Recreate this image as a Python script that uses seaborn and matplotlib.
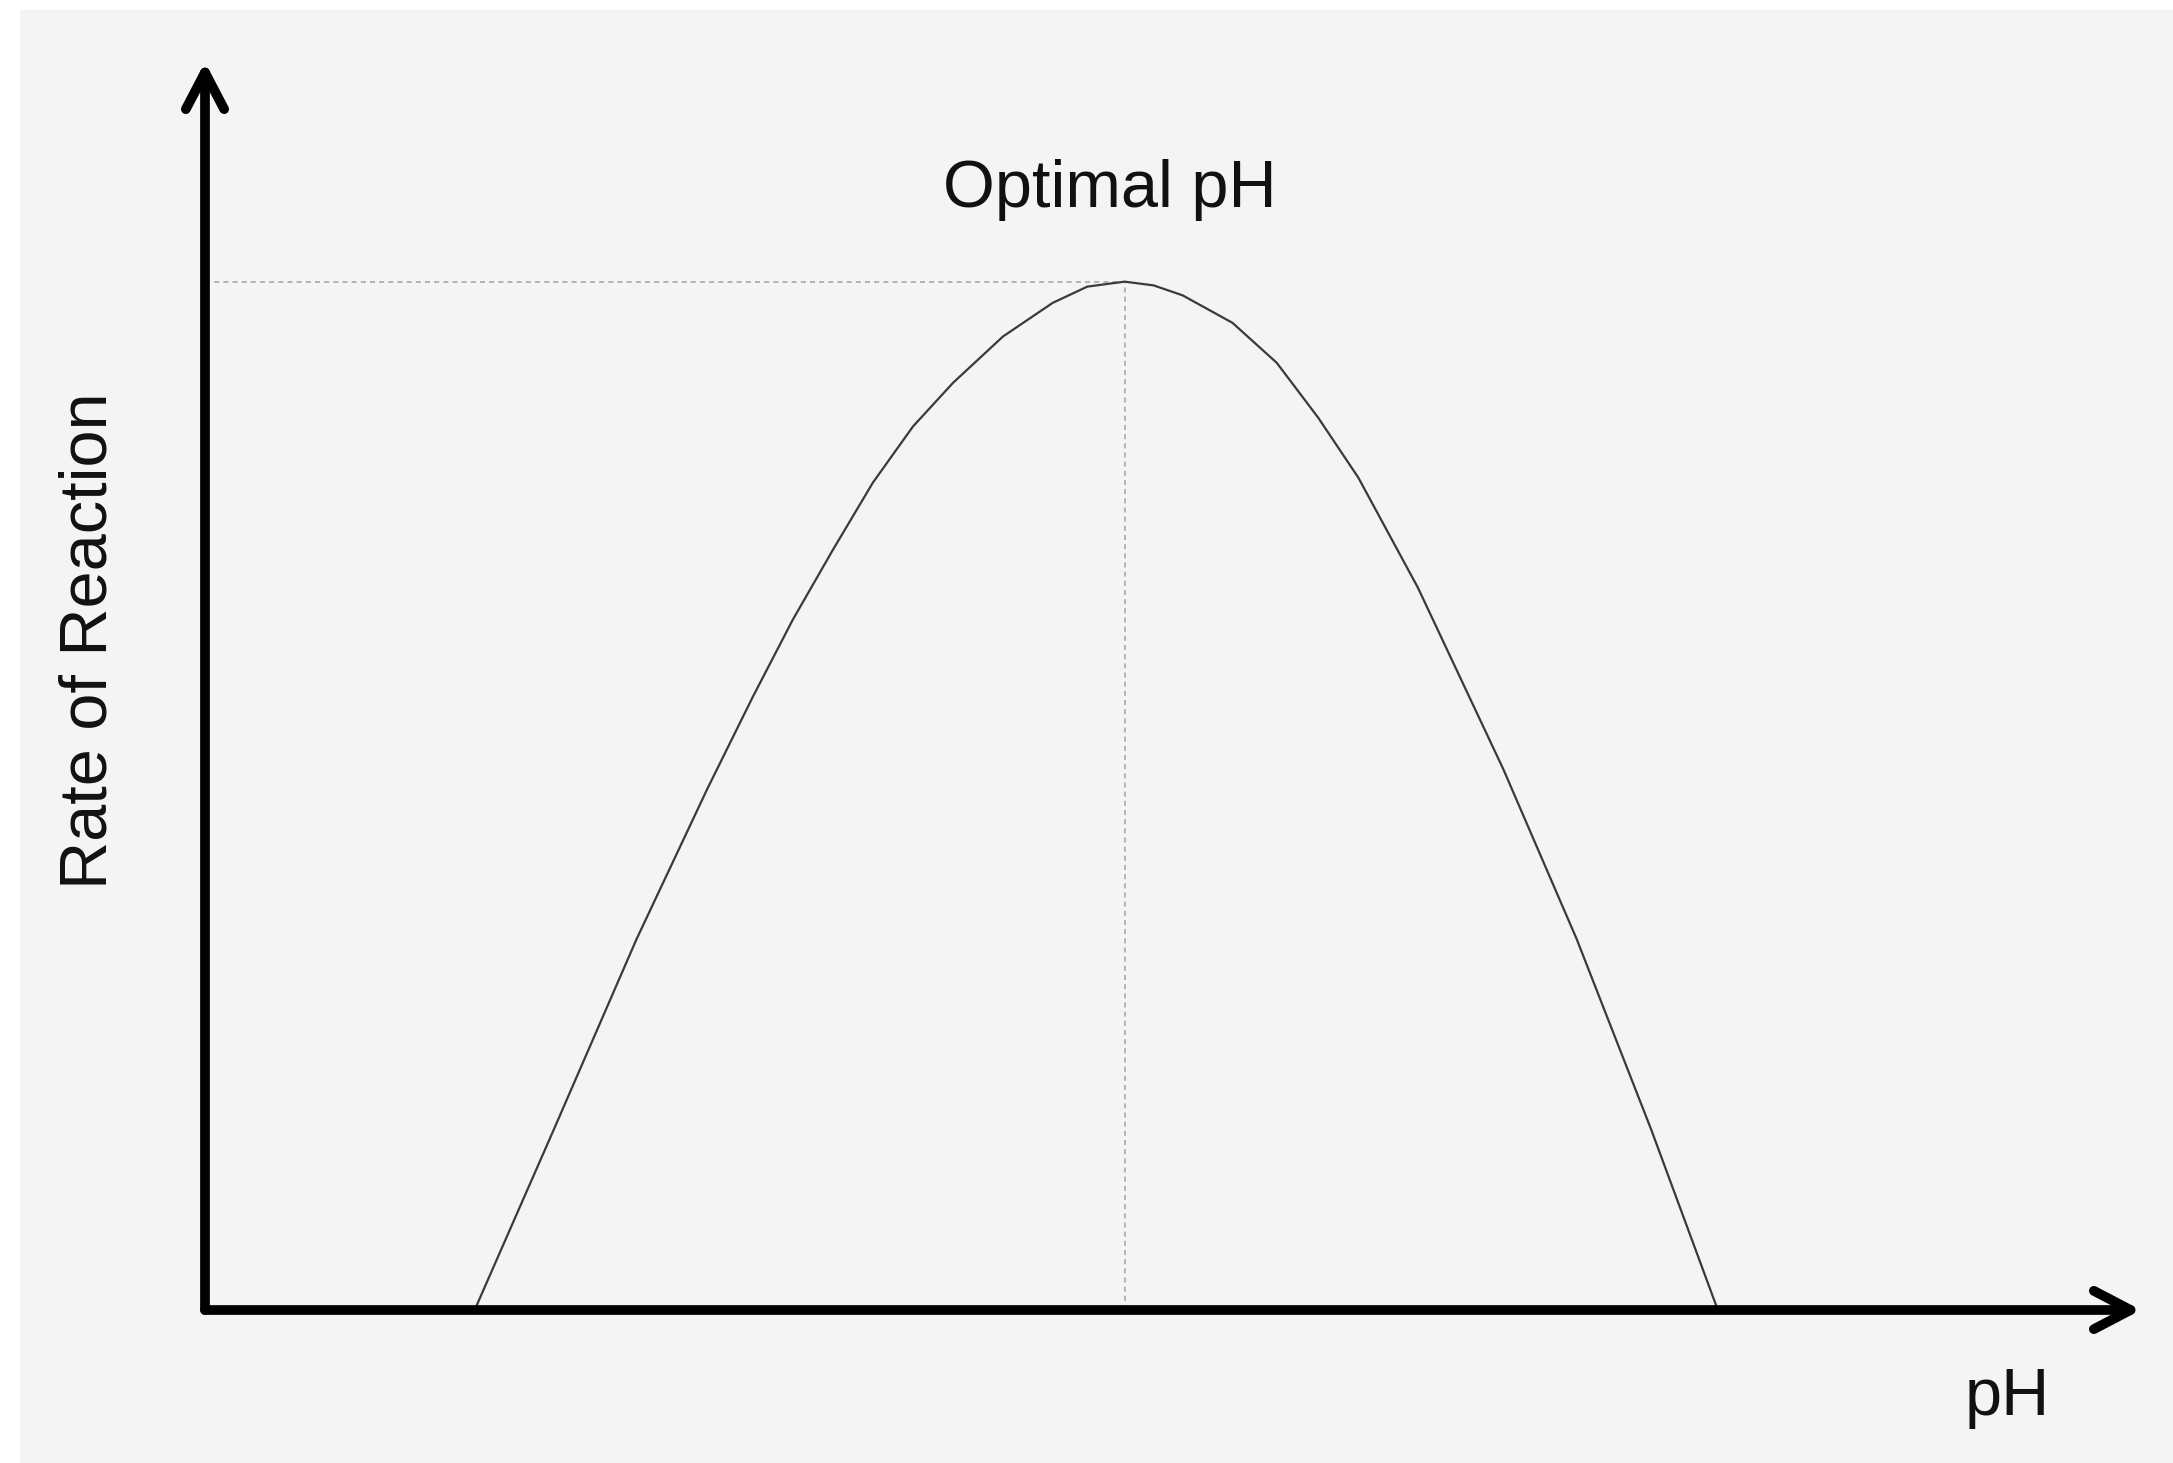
import numpy as np
import pandas as pd
import matplotlib
matplotlib.use("Agg")
import matplotlib.pyplot as plt
from matplotlib.patches import Rectangle
import seaborn as sns

# curve (pH on 0-14 scale, rate on 0-100 scale)
ph_values = [1.95, 2.52, 3.12, 3.63, 3.96, 4.25, 4.54, 4.83, 5.12, 5.41, 5.77, 6.13,
             6.38, 6.65, 6.86, 7.07, 7.43, 7.75, 8.05, 8.34, 8.77, 9.39, 9.92, 10.46,
             10.94]
rate_values = [0.0, 14.4, 29.7, 41.7, 49.1, 55.3, 60.9, 66.3, 70.8, 74.3, 78.0, 80.7,
               82.0, 82.4, 82.1, 81.3, 79.1, 75.9, 71.5, 66.7, 57.9, 43.3, 29.7, 14.4,
               0.0]

x_label = "pH"
y_label = "Rate of Reaction"
peak_label = "Optimal pH"

df = pd.DataFrame({"pH": ph_values, "rate": rate_values})
peak = df.loc[df["rate"].idxmax()]

sns.set_theme(style="white")
plt.rcParams["font.family"] = ["Liberation Sans", "DejaVu Sans"]

W, H = 2173, 1463
fig = plt.figure(figsize=(W / 100, H / 100), dpi=100)
fig.patch.set_facecolor("white")
# grey panel behind everything
fig.patches.append(Rectangle((20 / W, 0), 1 - 20 / W, 1 - 10 / H,
                             transform=fig.transFigure, facecolor="#f4f4f4",
                             edgecolor="none", zorder=-10))

ax = fig.add_axes([205 / W, 1 - 1310 / H, (2141 - 205) / W, (1310 - 62) / H])
ax.patch.set_visible(False)
ax.set_xlim(0, 14)
ax.set_ylim(0, 100)
ax.axis("off")

# dotted guides to the peak
ax.plot([0, peak["pH"]], [peak["rate"], peak["rate"]], color="#a8a8a8",
        lw=1.2, dashes=(3, 2.5), zorder=1)
ax.plot([peak["pH"], peak["pH"]], [0, peak["rate"]], color="#a8a8a8",
        lw=1.2, dashes=(3, 2.5), zorder=1)

sns.lineplot(data=df, x="pH", y="rate", ax=ax, color="#3a3a3a", linewidth=1.6,
             estimator=None, sort=False, zorder=2)

# axis arrows
arrow = dict(arrowstyle="->,head_length=2.2,head_width=1.15", lw=7, color="black",
             shrinkA=0, shrinkB=0, joinstyle="round", capstyle="round")
ax.annotate("", xy=(1, 0), xytext=(0, 0), xycoords="axes fraction",
            arrowprops=arrow, annotation_clip=False, zorder=3)
ax.annotate("", xy=(0, 1), xytext=(0, 0), xycoords="axes fraction",
            arrowprops=arrow, annotation_clip=False, zorder=3)

fig.text(1110 / W, 1 - 207 / H, peak_label, ha="center", va="baseline",
         fontsize=48, color="#111111")
fig.text(2007 / W, 1 - 1415 / H, x_label, ha="center", va="baseline",
         fontsize=48, color="#111111")
fig.text(90 / W, 1 - 641 / H, y_label, ha="center", va="center", rotation=90,
         fontsize=48, color="#111111")

fig.savefig("out.png", dpi=100, facecolor=fig.get_facecolor())
